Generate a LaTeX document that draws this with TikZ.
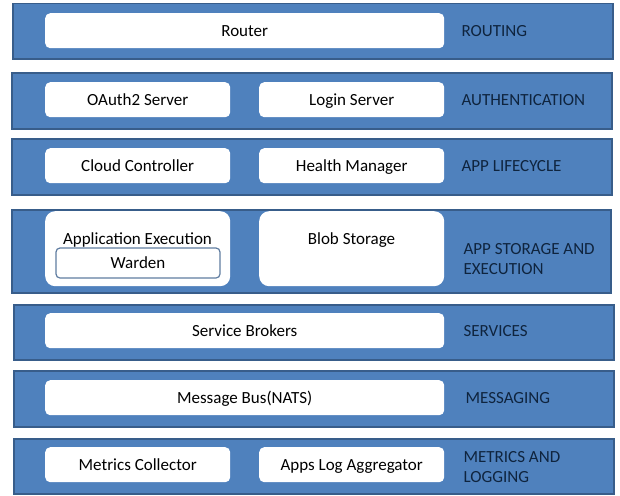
\documentclass[tikz,border=0pt]{standalone}
\usepackage{fontspec}
\setmainfont{Carlito}
\usepackage{tikz}
\usetikzlibrary{positioning}
\definecolor{layerblue}{HTML}{4F81BD}
\definecolor{layeredge}{HTML}{385D8A}
\definecolor{labelink}{HTML}{0F243E}
\tikzset{
  layer/.style={draw=layeredge, line width=1.5pt, fill=layerblue, rectangle, inner sep=0pt, anchor=north west},
  comp/.style={fill=white, rectangle, rounded corners=5pt, minimum height=35pt, inner sep=0pt, text height=11pt, text depth=0pt, anchor=north west},
  wide/.style={comp, minimum width=399pt},
  half/.style={comp, minimum width=185pt},
  inner/.style={draw=layeredge!80!white, line width=1.2pt, fill=white, rounded corners=4pt, inner sep=0pt, text height=11pt, text depth=0pt},
  tag/.style={text=labelink, align=left, inner sep=0pt},
}

\begin{document}
\begin{tikzpicture}[x=1pt, y=-1pt, font=\fontsize{17}{20}\selectfont]
  \useasboundingbox (0,0) rectangle (620,495);

  % layers
  \node[layer, minimum width=600pt, minimum height=55pt] (routing) at (12,3) {};
  \node[layer, minimum width=600pt, minimum height=56pt] (auth) at (11,72) {};
  \node[layer, minimum width=600pt, minimum height=56pt] (lifecycle) at (11,138) {};
  \node[layer, minimum width=599pt, minimum height=83pt] (storage) at (11,209) {};
  \node[layer, minimum width=600pt, minimum height=55pt] (services) at (13,304) {};
  \node[layer, minimum width=600pt, minimum height=56pt] (messaging) at (13,370) {};
  \node[layer, minimum width=600pt, minimum height=55pt] (metrics) at (13,438) {};

  % components
  \node[wide] (router) at (45,13) {Router};
  \node[half] (oauth) at (45,82) {OAuth2 Server};
  \node[half] (login) at (259,82) {Login Server};
  \node[half] (cc) at (45,148) {Cloud Controller};
  \node[half] (hm) at (259,148) {Health Manager};
  \node[half, minimum height=75pt, rounded corners=10pt] (appexec) at (45,211) {};
  \node[half, minimum height=75pt, rounded corners=10pt] (blob) at (259,211) {};
  \node[inner, minimum width=164pt, minimum height=30pt] (warden) at (138,263) {Warden};
  \node[inner sep=0pt, text height=11pt, text depth=0pt] (appexectext) at (137.5,238.5) {Application Execution};
  \node[inner sep=0pt, text height=11pt, text depth=0pt] (blobtext) at (351.5,238.5) {Blob Storage};
  \node[wide] (brokers) at (45,313) {Service Brokers};
  \node[wide] (nats) at (45,380) {Message Bus(NATS)};
  \node[half] (collector) at (45,447) {Metrics Collector};
  \node[half] (logagg) at (259,447) {Apps Log Aggregator};

  % layer names
  \node[tag, right=17pt of router] (routingtag) {ROUTING};
  \node[tag, right=17pt of login] (authtag) {AUTHENTICATION};
  \node[tag, right=17pt of hm] (lifecycletag) {APP LIFECYCLE};
  \node[tag, right=19pt of blob, yshift=-10pt] (storagetag) {APP STORAGE AND\\EXECUTION};
  \node[tag, right=19pt of brokers] (servicestag) {SERVICES};
  \node[tag, right=21pt of nats] (messagingtag) {MESSAGING};
  \node[tag, right=19pt of logagg, yshift=-2pt] (metricstag) {METRICS AND\\LOGGING};
\end{tikzpicture}
\end{document}
